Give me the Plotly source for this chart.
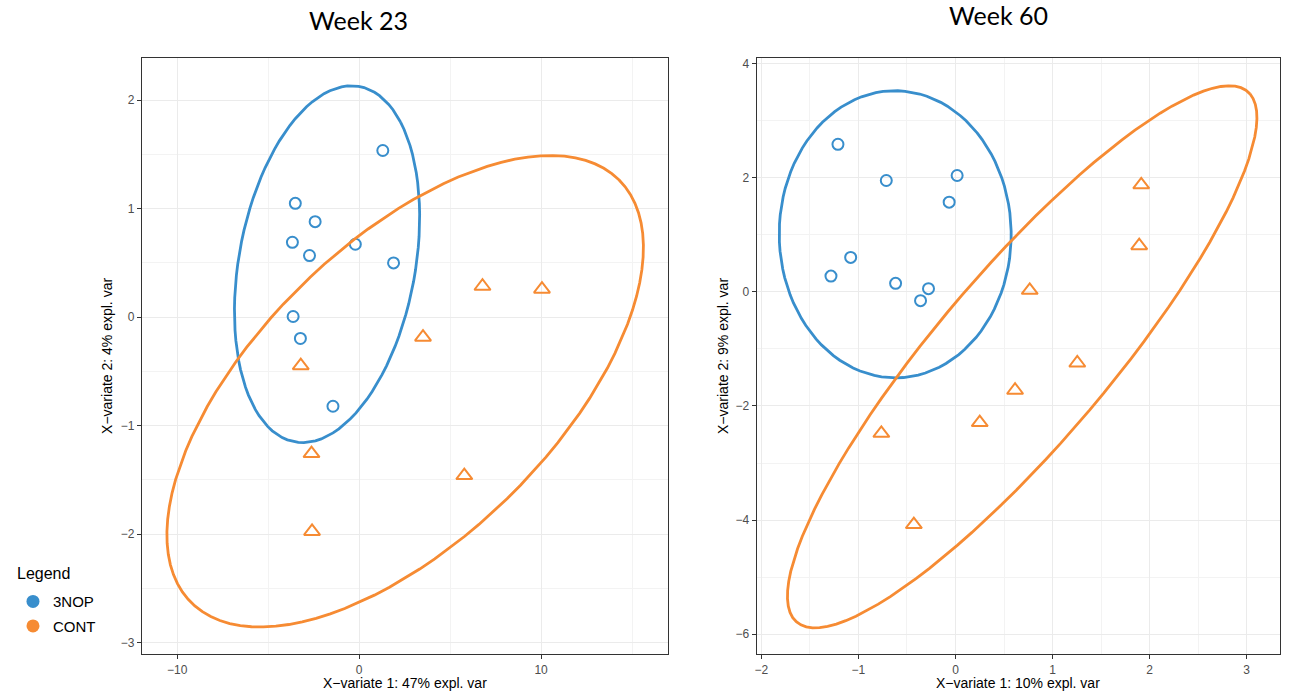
import numpy as np
import plotly.graph_objects as go

# ---- sPLS-DA sample scores (component 1 vs component 2) ----
# Week 23
w23_3nop_x = [1.30, -3.51, -2.42, -3.67, -2.73, -0.21, 1.89, -3.63, -3.23, -1.44]
w23_3nop_y = [1.536, 1.049, 0.880, 0.690, 0.568, 0.672, 0.500, 0.006, -0.196, -0.821]
w23_cont_x = [6.78, 10.05, 3.51, -3.21, -2.62, 5.78, -2.59]
w23_cont_y = [0.285, 0.258, -0.184, -0.447, -1.257, -1.459, -1.974]

# Week 60
w60_3nop_x = [-1.211, -0.713, 0.017, -0.065, -1.080, -1.283, -0.617, -0.278, -0.360]
w60_3nop_y = [2.59, 1.955, 2.043, 1.575, 0.606, 0.279, 0.151, 0.058, -0.152]
w60_cont_x = [1.914, 1.893, 0.765, 1.255, 0.614, 0.25, -0.764, -0.429]
w60_cont_y = [1.88, 0.811, 0.028, -1.246, -1.724, -2.29, -2.48, -4.08]

groups = ["3NOP", "CONT"]
panel_titles = ["Week 23", "Week 60"]
x_titles = ["X\u2212variate 1: 47% expl. var", "X\u2212variate 1: 10% expl. var"]
y_titles = ["X\u2212variate 2: 4% expl. var", "X\u2212variate 2: 9% expl. var"]

BLUE = "#388ECC"
ORANGE = "#F68B33"
COLORS = {"3NOP": BLUE, "CONT": ORANGE}
SYMBOLS = {"3NOP": "circle-open", "CONT": "triangle-up-open"}
SIZES = {"3NOP": 11, "CONT": 14}


def conf_ellipse(x, y, level=0.95, npoints=100):
    """95% confidence ellipse from the sample covariance (ellipse::ellipse)."""
    x = np.asarray(x, float)
    y = np.asarray(y, float)
    cov = np.cov(np.vstack([x, y]))
    t = np.sqrt(-2.0 * np.log(1.0 - level))  # sqrt(qchisq(level, 2))
    sx, sy = np.sqrt(np.diag(cov))
    r = cov[0, 1] / (sx * sy)
    d = np.arccos(r)
    a = np.linspace(0, 2 * np.pi, npoints)
    ex = t * sx * np.cos(a + d / 2) + x.mean()
    ey = t * sy * np.cos(a - d / 2) + y.mean()
    return ex, ey


panels = [
    {"3NOP": (w23_3nop_x, w23_3nop_y), "CONT": (w23_cont_x, w23_cont_y)},
    {"3NOP": (w60_3nop_x, w60_3nop_y), "CONT": (w60_cont_x, w60_cont_y)},
]

fig = go.Figure()

for i, data in enumerate(panels):
    xa = "x" if i == 0 else "x2"
    ya = "y" if i == 0 else "y2"
    for g in groups:
        gx, gy = data[g]
        fig.add_trace(go.Scatter(
            x=gx, y=gy, mode="markers", xaxis=xa, yaxis=ya, showlegend=False,
            marker=dict(symbol=SYMBOLS[g], size=SIZES[g], color=COLORS[g],
                        line=dict(width=2, color=COLORS[g])),
            name=g,
        ))
    for g in groups:
        gx, gy = data[g]
        ex, ey = conf_ellipse(gx, gy)
        fig.add_trace(go.Scatter(
            x=ex, y=ey, mode="lines", xaxis=xa, yaxis=ya, showlegend=False,
            line=dict(color=COLORS[g], width=2.8), hoverinfo="skip", name=g,
        ))

# legend entries (filled dots)
for g in groups:
    fig.add_trace(go.Scatter(
        x=[None], y=[None], mode="markers", name=g, legendgroup=g,
        marker=dict(symbol="circle", size=13, color=COLORS[g]),
        xaxis="x", yaxis="y",
    ))

W, H = 1292, 696
left_dom = [140 / W, 666.7 / W]
right_dom = [755.7 / W, 1280 / W]
y_dom = [1 - 654.3 / H, 1 - 57 / H]

axis_common = dict(
    showline=True, mirror=True, linecolor="#333333", linewidth=1,
    ticks="outside", ticklen=4, tickwidth=1, tickcolor="#333333",
    tickfont=dict(family="Liberation Sans, Arial, sans-serif", size=12, color="#4D4D4D"),
    showgrid=True, gridcolor="#EBEBEB", gridwidth=1.2,
    zeroline=False,
)
minor_col = "#F3F3F3"

fig.update_layout(
    width=W, height=H,
    margin=dict(l=0, r=0, t=0, b=0),
    paper_bgcolor="white", plot_bgcolor="white",
    font=dict(family="Liberation Sans, Arial, sans-serif", color="black"),
    xaxis=dict(domain=left_dom, anchor="y", range=[-11.95, 16.96],
               tick0=0, dtick=10,
               minor=dict(tick0=0, dtick=5, showgrid=True, gridcolor=minor_col, gridwidth=1),
               **axis_common),
    yaxis=dict(domain=y_dom, anchor="x", range=[-3.107, 2.389],
               tick0=0, dtick=1,
               minor=dict(tick0=0, dtick=0.5, showgrid=True, gridcolor=minor_col, gridwidth=1),
               **axis_common),
    xaxis2=dict(domain=right_dom, anchor="y2", range=[-2.05, 3.344],
                tick0=0, dtick=1,
                minor=dict(tick0=0, dtick=0.5, showgrid=True, gridcolor=minor_col, gridwidth=1),
                **axis_common),
    yaxis2=dict(domain=y_dom, anchor="x2", range=[-6.356, 4.105],
                tick0=0, dtick=2,
                minor=dict(tick0=0, dtick=1, showgrid=True, gridcolor=minor_col, gridwidth=1),
                **axis_common),
    legend=dict(
        font=dict(size=15, color="black"),
        x=11 / W, xanchor="left", y=1 - 585 / H, yanchor="top",
        bgcolor="rgba(0,0,0,0)", tracegroupgap=2, itemsizing="trace",
    ),
)

ann = []
# legend heading
ann.append(dict(text="Legend", x=13 / W, y=1 - 573 / H, xref="paper", yref="paper",
                xanchor="left", yanchor="middle", showarrow=False,
                font=dict(size=16, color="black")))
# panel titles
for txt, cx, cy in [(panel_titles[0], 357, 19), (panel_titles[1], 998, 14)]:
    ann.append(dict(text=txt, x=cx / W, y=1 - cy / H, xref="paper", yref="paper",
                    xanchor="center", yanchor="middle", showarrow=False,
                    font=dict(family="Lato, sans-serif", size=25, color="black")))
# axis titles
for txt, cx in [(x_titles[0], (140 + 666.7) / 2), (x_titles[1], (755.7 + 1280) / 2)]:
    ann.append(dict(text=txt, x=cx / W, y=1 - 683 / H, xref="paper", yref="paper",
                    xanchor="center", yanchor="middle", showarrow=False,
                    font=dict(size=14, color="black")))
for txt, cx in [(y_titles[0], 105), (y_titles[1], 722)]:
    ann.append(dict(text=txt, x=cx / W, y=1 - 355.6 / H, xref="paper", yref="paper",
                    xanchor="center", yanchor="middle", showarrow=False, textangle=-90,
                    font=dict(size=14, color="black")))
fig.update_layout(annotations=ann)

fig.write_html("out.html")
